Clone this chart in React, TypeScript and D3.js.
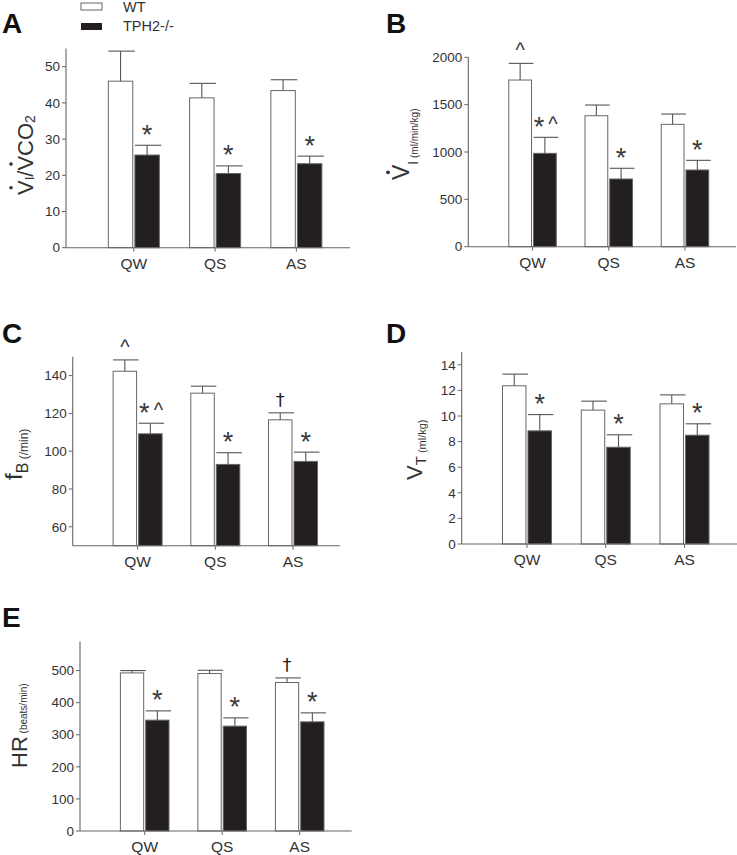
import React from "react";
import * as d3 from "d3";

// ---------- DATA ----------
const categories = ["QW", "QS", "AS"];
const genotypes = ["WT", "TPH2-/-"];

// A: VI/VCO2
const wtA = [46.0, 41.4, 43.4];
const wtAErr = [8.3, 4.0, 3.0];
const koA = [25.6, 20.5, 23.2];
const koAErr = [2.7, 2.1, 2.1];
const wtMarksA = ["", "", ""];
const koMarksA = ["*", "*", "*"];
const ticksA = [0, 10, 20, 30, 40, 50];

// B: VI (ml/min/kg)
const wtB = [1760, 1383, 1292];
const wtBErr = [176, 113, 109];
const koB = [986, 715, 810];
const koBErr = [169, 113, 102];
const wtMarksB = ["^", "", ""];
const koMarksB = ["*^", "*", "*"];
const ticksB = [0, 500, 1000, 1500, 2000];

// C: fB (/min)
const wtC = [142.3, 130.7, 116.6];
const wtCErr = [6.0, 3.7, 3.7];
const koC = [109.2, 93.0, 94.6];
const koCErr = [5.6, 6.2, 4.9];
const wtMarksC = ["^", "", "†"];
const koMarksC = ["*^", "*", "*"];
const ticksC = [60, 80, 100, 120, 140];

// D: VT (ml/kg)
const wtD = [12.36, 10.46, 10.95];
const wtDErr = [0.91, 0.7, 0.7];
const koD = [8.84, 7.56, 8.5];
const koDErr = [1.27, 0.97, 0.89];
const wtMarksD = ["", "", ""];
const koMarksD = ["*", "*", "*"];
const ticksD = [0, 2, 4, 6, 8, 10, 12, 14];

// E: HR (beats/min)
const wtE = [492.7, 490.8, 462.8];
const wtEErr = [7.3, 10.2, 14.3];
const koE = [345.5, 326.8, 340.2];
const koEErr = [28.9, 25.8, 28.0];
const wtMarksE = ["", "", "†"];
const koMarksE = ["*", "*", "*"];
const ticksE = [0, 100, 200, 300, 400, 500];

// ---------- STYLE / LAYOUT ----------
const FONT = "'Liberation Sans', Arial, Helvetica, sans-serif";
const TEXT = "#333";
const LINE = "#666";
const DARK = "#231f20";

const panels = [
  { id: "A", lx: 2, ly: 33, axisX: 66, axisEnd: 350, yTop: 48.6, yBottom: 247.7, domain: [0, 55], band: [93.2, 337], pairW: 51,
    wt: wtA, wtErr: wtAErr, ko: koA, koErr: koAErr, wtMarks: wtMarksA, koMarks: koMarksA, ticks: ticksA },
  { id: "B", lx: 386, ly: 33, axisX: 468.3, axisEnd: 736, yTop: 57.3, yBottom: 246.7, domain: [0, 2000], band: [494.4, 723.1], pairW: 47.5,
    wt: wtB, wtErr: wtBErr, ko: koB, koErr: koBErr, wtMarks: wtMarksB, koMarks: koMarksB, ticks: ticksB },
  { id: "C", lx: 2, ly: 343, axisX: 72.7, axisEnd: 340, yTop: 356.7, yBottom: 545.7, domain: [50, 150], band: [98.75, 331.85], pairW: 49,
    wt: wtC, wtErr: wtCErr, ko: koC, koErr: koCErr, wtMarks: wtMarksC, koMarks: koMarksC, ticks: ticksC },
  { id: "D", lx: 386, ly: 343, axisX: 461.7, axisEnd: 737, yTop: 352, yBottom: 544, domain: [0, 15], band: [487.6, 723.9], pairW: 49,
    wt: wtD, wtErr: wtDErr, ko: koD, koErr: koDErr, wtMarks: wtMarksD, koMarks: koMarksD, ticks: ticksD },
  { id: "E", lx: 2, ly: 627, axisX: 80, axisEnd: 351.7, yTop: 641.7, yBottom: 831, domain: [0, 590], band: [105.95, 338.45], pairW: 48.6,
    wt: wtE, wtErr: wtEErr, ko: koE, koErr: koEErr, wtMarks: wtMarksE, koMarks: koMarksE, ticks: ticksE },
];

function Mark({ m, cx, capY }: { m: string; cx: number; capY: number }) {
  if (!m) return null;
  const star = (x: number) => (
    <text x={x} y={capY - 1.5} fontSize={27} textAnchor="middle" fill="#3a3a3a" fontFamily={FONT}>*</text>
  );
  const caret = (x: number) => (
    <text x={x} y={capY - 6} fontSize={20} textAnchor="middle" fill={TEXT} fontFamily={FONT}>^</text>
  );
  if (m === "*") return star(cx);
  if (m === "^") return caret(cx);
  if (m === "*^")
    return (
      <g>
        {star(cx - 6)}
        {caret(cx + 8)}
      </g>
    );
  if (m === "†")
    return (
      <text x={cx} y={capY - 6.5} fontSize={18} textAnchor="middle" fill="#222" fontFamily="'DejaVu Sans', sans-serif">†</text>
    );
  return null;
}

function YLabel({ id }: { id: string }) {
  const common = { fill: TEXT, fontFamily: FONT };
  if (id === "A")
    return (
      <g transform="translate(33,195) rotate(-90)" {...common}>
        <text fontSize={22}>
          <tspan>V</tspan>
          <tspan fontSize={13} dy={1}>I</tspan>
          <tspan dy={-1}>/V</tspan>
          <tspan>CO</tspan>
          <tspan fontSize={14} dy={2}>2</tspan>
        </text>
        <circle cx={7.3} cy={-22} r={1.8} fill={TEXT} />
        <circle cx={30.9} cy={-22} r={1.8} fill={TEXT} />
      </g>
    );
  if (id === "B")
    return (
      <g transform="translate(409,180) rotate(-90)" {...common}>
        <text fontSize={23}>
          <tspan>V</tspan>
          <tspan fontSize={14} dy={9}>I</tspan>
          <tspan fontSize={10}> (ml/min/kg)</tspan>
        </text>
        <circle cx={7.7} cy={-21} r={1.9} fill={TEXT} />
      </g>
    );
  if (id === "C")
    return (
      <g transform="translate(21.7,480) rotate(-90)" {...common}>
        <text fontSize={24}>
          <tspan>f</tspan>
          <tspan fontSize={16} dy={6.5}>B</tspan>
          <tspan fontSize={12}> (/min)</tspan>
        </text>
      </g>
    );
  if (id === "D")
    return (
      <g transform="translate(421.7,480) rotate(-90)" {...common}>
        <text fontSize={22}>
          <tspan>V</tspan>
          <tspan fontSize={15} dy={4}>T</tspan>
          <tspan fontSize={11}> (ml/kg)</tspan>
        </text>
      </g>
    );
  return (
    <g transform="translate(26.7,768) rotate(-90)" {...common}>
      <text fontSize={22}>
        <tspan>HR</tspan>
        <tspan fontSize={10}> (beats/min)</tspan>
      </text>
    </g>
  );
}

function Panel({ p }: { p: any }) {
  const y = d3.scaleLinear().domain(p.domain).range([p.yBottom, p.yTop]);
  const x = d3.scaleBand().domain(categories).range(p.band).padding(0);
  const sub = d3.scaleBand().domain(genotypes).range([-p.pairW / 2, p.pairW / 2]).paddingInner(0.08);
  const bw = sub.bandwidth();
  const base = y(p.domain[0]);
  const series = [
    { g: genotypes[0], vals: p.wt, errs: p.wtErr, marks: p.wtMarks, fill: "#fff" },
    { g: genotypes[1], vals: p.ko, errs: p.koErr, marks: p.koMarks, fill: DARK },
  ];
  return (
    <g>
      <text x={p.lx} y={p.ly} fontSize={28} fontWeight="bold" fill="#111" fontFamily={FONT}>{p.id}</text>
      {categories.map((c, i) => {
        const cx = (x(c) as number) + x.bandwidth() / 2;
        return series.map((s) => {
          const bx = cx + (sub(s.g) as number);
          const v = s.vals[i];
          const top = y(v);
          const capY = y(v + s.errs[i]);
          const bc = bx + bw / 2;
          return (
            <g key={c + s.g}>
              <rect x={bx} y={top} width={bw} height={base - top} fill={s.fill} stroke={LINE} strokeWidth={1} />
              <line x1={bc} x2={bc} y1={top} y2={capY} stroke="#555" strokeWidth={1.1} />
              <line x1={bx} x2={bx + bw + 2} y1={capY} y2={capY} stroke="#555" strokeWidth={1.1} />
              <Mark m={s.marks[i]} cx={bc} capY={capY} />
            </g>
          );
        });
      })}
      <line x1={p.axisX} x2={p.axisX} y1={p.yTop} y2={p.yBottom} stroke={LINE} strokeWidth={1.1} />
      {p.ticks.map((t: number) => (
        <g key={t}>
          <line x1={p.axisX - 4} x2={p.axisX} y1={y(t)} y2={y(t)} stroke={LINE} strokeWidth={1} />
          <text x={p.axisX - 6} y={y(t)} dy="0.35em" fontSize={13.5} textAnchor="end" fill={TEXT} fontFamily={FONT}>{t}</text>
        </g>
      ))}
      <line x1={p.axisX} x2={p.axisEnd} y1={p.yBottom} y2={p.yBottom} stroke={LINE} strokeWidth={1.1} />
      {categories.map((c) => {
        const cx = (x(c) as number) + x.bandwidth() / 2;
        return (
          <g key={"xt" + c}>
            <line x1={cx} x2={cx} y1={p.yBottom} y2={p.yBottom + 4} stroke={LINE} strokeWidth={1} />
            <text x={cx} y={p.yBottom + 21} fontSize={15.5} textAnchor="middle" fill={TEXT} fontFamily={FONT}>{c}</text>
          </g>
        );
      })}
      <YLabel id={p.id} />
    </g>
  );
}

export default function App() {
  return (
    <svg width={737} height={855} style={{ position: "absolute", left: 0, top: 0, background: "#fff" }}>
      <rect x={0} y={0} width={737} height={855} fill="#fff" />
      <rect x={81} y={3} width={21} height={7} fill="#fff" stroke={LINE} strokeWidth={1} />
      <rect x={81} y={23} width={21} height={7} fill={DARK} />
      <text x={123} y={12} fontSize={14.5} fill={TEXT} fontFamily={FONT}>{genotypes[0]}</text>
      <text x={123} y={30.5} fontSize={14.5} fill={TEXT} fontFamily={FONT}>{genotypes[1]}</text>
      {panels.map((p) => (
        <Panel key={p.id} p={p} />
      ))}
    </svg>
  );
}
